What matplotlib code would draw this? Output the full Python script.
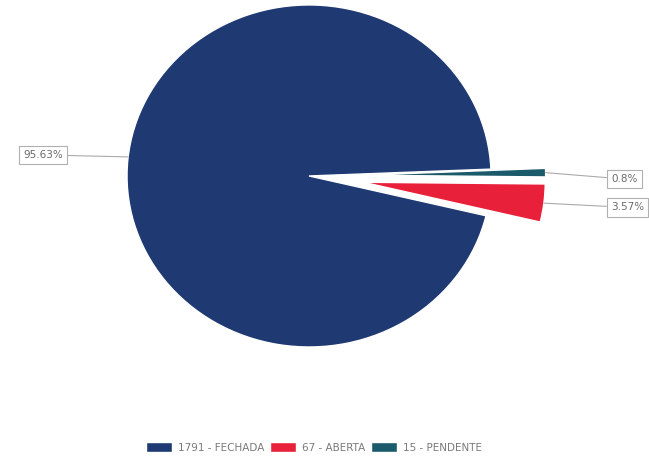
import numpy as np
import matplotlib
matplotlib.use("Agg")
import matplotlib.pyplot as plt

categories = ["FECHADA", "ABERTA", "PENDENTE"]
values = [1791, 67, 15]
pct_labels = ["95.63%", "3.57%", "0.8%"]
colors = ["#1f3a72", "#e8203a", "#1b5a6a"]
explode = [0, 0.3, 0.3]

fig = plt.figure(figsize=(6.49, 4.59), dpi=100)
ax = fig.add_axes([0, 0, 1, 1])

wedges, _ = ax.pie(values, colors=colors, explode=explode, startangle=2.3,
                   counterclock=True,
                   wedgeprops=dict(edgecolor="white", linewidth=1.0))
ax.set_aspect("auto")
ax.set_xlim(-1.698, 1.868)
ax.set_ylim(-1.655, 1.029)
ax.axis("off")

# label positions (layout only)
text_pos = [(-1.352, 0.123), (1.659, -0.184), (1.659, -0.018)]
text_ha = ["right", "left", "left"]
anchor_angles = [173.6, None, None]
for i, w in enumerate(wedges):
    ang = anchor_angles[i]
    if ang is None:
        ang = (w.theta1 + w.theta2) / 2.0
    cx, cy = w.center
    px = cx + w.r * np.cos(np.radians(ang))
    py = cy + w.r * np.sin(np.radians(ang))
    tx, ty = text_pos[i]
    ax.annotate(pct_labels[i], xy=(px, py), xytext=(tx, ty),
                ha=text_ha[i], va="center", fontsize=7.5, color="#6a6a6a",
                bbox=dict(boxstyle="square,pad=0.4", fc="white", ec="#b0b0b0", lw=0.8),
                arrowprops=dict(arrowstyle="-", color="#aaaaaa", lw=0.8,
                                shrinkA=0, shrinkB=0))

leg_labels = [f"{v} - {c}" for v, c in zip(values, categories)]
leg = ax.legend(wedges, leg_labels, loc="center", bbox_to_anchor=(0.484, 0.025),
                ncol=3, frameon=False, fontsize=7.5, handlelength=2.5,
                handleheight=1.1, columnspacing=0.5, handletextpad=0.6,
                labelcolor="#7a7a7a")

fig.savefig("out.png", dpi=100, facecolor="white")
